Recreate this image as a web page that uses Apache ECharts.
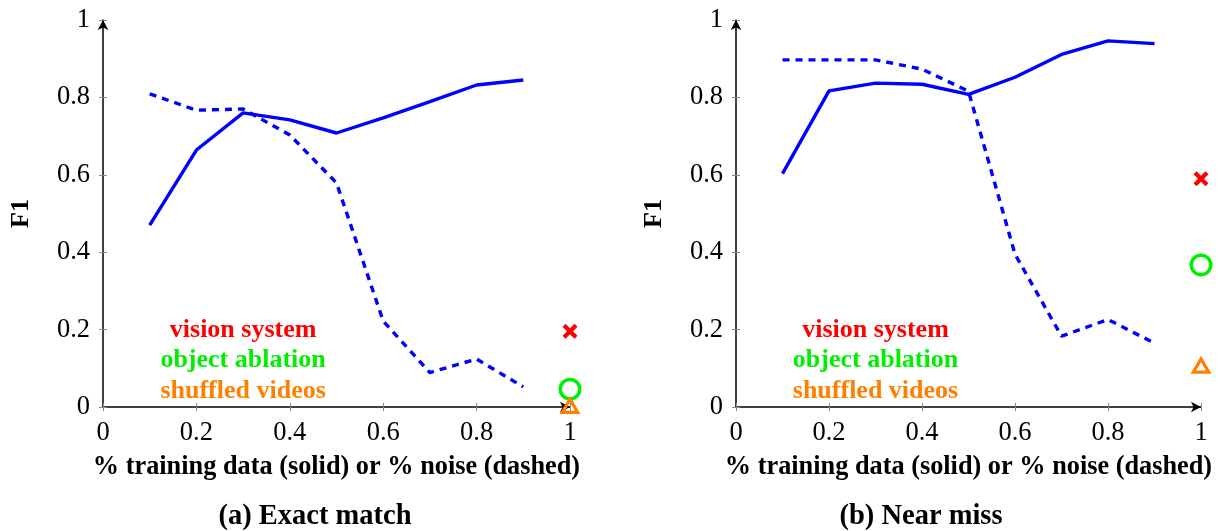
<!DOCTYPE html>
<html><head><meta charset="utf-8">
<script src="https://cdn.jsdelivr.net/npm/echarts@6/dist/echarts.min.js"></script>
<style>html,body{margin:0;padding:0;background:#fff}#c{width:1223px;height:531px}</style>
</head><body><div id="c"></div>
<script>
const xSteps = [0.1, 0.2, 0.3, 0.4, 0.5, 0.6, 0.7, 0.8, 0.9];
const tickValues = [0, 0.2, 0.4, 0.6, 0.8, 1];
const tickLabels = ['0', '0.2', '0.4', '0.6', '0.8', '1'];
const exactTraining = [0.470, 0.664, 0.760, 0.742, 0.708, 0.747, 0.789, 0.832, 0.845];
const exactNoise    = [0.809, 0.767, 0.770, 0.703, 0.579, 0.222, 0.089, 0.124, 0.052];
const nearTraining  = [0.603, 0.817, 0.837, 0.834, 0.808, 0.852, 0.911, 0.946, 0.939];
const nearNoise     = [0.897, 0.897, 0.897, 0.873, 0.816, 0.395, 0.183, 0.226, 0.165];
const baselineNames = ['vision system', 'object ablation', 'shuffled videos'];
const exactBaselines = [0.196, 0.046, 0.005];
const nearBaselines  = [0.590, 0.367, 0.109];
const baselineX = 1;
const legendX = 0.3;
const legendY = [0.199, 0.121, 0.040];
const xAxisTitle = '% training data (solid) or % noise (dashed)';
const yAxisTitle = 'F1';
const captions = [['(a) ', 'Exact match'], ['(b) ', 'Near miss']];

const SERIF = '"Liberation Serif","DejaVu Serif",serif';
const baselineColors = ['#ff0000', '#00ee00', '#ff8000'];
const crossPath = 'path://M2,0L5,3L8,0L10,2L7,5L10,8L8,10L5,7L2,10L0,8L3,5L0,2Z';
const ringPath = 'path://M11.5,0A11.5,11.5 0 1,1 11.5,23A11.5,11.5 0 1,1 11.5,0ZM11.5,3.5A8,8 0 1,0 11.5,19.5A8,8 0 1,0 11.5,3.5Z';
const triPath = 'path://M10.5,0L21,18L0,18ZM10.5,6.35L5.57,14.8L15.43,14.8Z';

function fmt(v){ const i = tickValues.findIndex(t => Math.abs(t - v) < 1e-9); return i >= 0 ? tickLabels[i] : ''; }

function axisX(gi){
  return {gridIndex: gi, type: 'value', min: 0, max: 1, interval: 0.2,
    axisLine: {show: true, onZero: false, symbol: ['none', 'arrow'], symbolSize: [8, 10], lineStyle: {color: '#000', width: 1.5}},
    axisTick: {show: true, length: 4, lineStyle: {color: '#888', width: 1}},
    axisLabel: {formatter: fmt, fontFamily: SERIF, fontSize: 26.5, color: '#000', margin: 13},
    splitLine: {show: false},
    name: xAxisTitle, nameLocation: 'middle', nameGap: 47,
    nameTextStyle: {fontFamily: SERIF, fontSize: 26.3, fontWeight: 'bold', color: '#000'}};
}
function axisXInner(gi){
  return {gridIndex: gi, type: 'value', min: 0, max: 1, interval: 0.2, position: 'bottom',
    axisLine: {show: false}, axisLabel: {show: false}, splitLine: {show: false},
    axisTick: {show: true, inside: true, length: 4, lineStyle: {color: '#888', width: 1}}};
}
function axisY(gi){
  return {gridIndex: gi, type: 'value', min: 0, max: 1, interval: 0.2,
    axisLine: {show: true, onZero: false, symbol: ['none', 'arrow'], symbolSize: [8, 10], lineStyle: {color: '#000', width: 1.5}},
    axisTick: {show: true, length: 4, lineStyle: {color: '#888', width: 1}},
    axisLabel: {formatter: fmt, fontFamily: SERIF, fontSize: 26.5, color: '#000', margin: 13},
    splitLine: {show: false},
    name: yAxisTitle, nameLocation: 'middle', nameGap: 69, nameRotate: 90,
    nameTextStyle: {fontFamily: SERIF, fontSize: 26, fontWeight: 'bold', color: '#000'}};
}
function axisYInner(gi){
  return {gridIndex: gi, type: 'value', min: 0, max: 1, interval: 0.2, position: 'left',
    axisLine: {show: false}, axisLabel: {show: false}, splitLine: {show: false},
    axisTick: {show: true, inside: true, length: 4, lineStyle: {color: '#888', width: 1}}};
}

function seriesFor(gi, training, noise, baselines){
  const out = [];
  out.push({type: 'line', xAxisIndex: gi, yAxisIndex: gi, showSymbol: false, animation: false,
    data: xSteps.map((x, i) => [x, training[i]]),
    lineStyle: {color: '#0000ff', width: 3.4}});
  out.push({type: 'line', xAxisIndex: gi, yAxisIndex: gi, showSymbol: false, animation: false,
    data: xSteps.map((x, i) => [x, noise[i]]),
    lineStyle: {color: '#0000ff', width: 3.4, type: [7, 6], cap: 'butt'}});
  out.push({type: 'scatter', xAxisIndex: gi, yAxisIndex: gi, animation: false, z: 5, clip: false,
    data: [[baselineX, baselines[0]]], symbol: crossPath, symbolSize: 15,
    itemStyle: {color: baselineColors[0], opacity: 1}});
  out.push({type: 'scatter', xAxisIndex: gi, yAxisIndex: gi, animation: false, z: 5, clip: false,
    data: [[baselineX, baselines[1]]], symbol: ringPath, symbolSize: 23,
    itemStyle: {color: baselineColors[1], opacity: 1}});
  out.push({type: 'scatter', xAxisIndex: gi, yAxisIndex: gi, animation: false, z: 6, clip: false,
    data: [[baselineX, baselines[2]]], symbol: triPath, symbolSize: [21, 18],
    itemStyle: {color: baselineColors[2], opacity: 1}});
  out.push({type: 'scatter', xAxisIndex: gi, yAxisIndex: gi, animation: false, silent: true,
    symbolSize: 1, itemStyle: {color: 'rgba(0,0,0,0)', opacity: 1},
    data: baselineNames.map((n, i) => ({value: [legendX, legendY[i]],
      label: {show: true, position: 'inside', formatter: n, color: baselineColors[i], opacity: 1,
        fontFamily: SERIF, fontSize: 26, fontWeight: 'bold'}}))});
  return out;
}

const chart = echarts.init(document.getElementById('c'), null, {renderer: 'canvas'});
chart.setOption({
  backgroundColor: '#fff',
  animation: false,
  grid: [
    {left: 103, top: 20, width: 467, height: 387},
    {left: 736, top: 20, width: 465, height: 387}
  ],
  xAxis: [axisX(0), axisX(1), axisXInner(0), axisXInner(1)],
  yAxis: [axisY(0), axisY(1), axisYInner(0), axisYInner(1)],
  title: captions.map((c, i) => ({
    text: '{r|' + c[0] + '}{b|' + c[1] + '}',
    left: i === 0 ? 310 : 916, top: 497, textAlign: 'center',
    textStyle: {rich: {
      r: {fontFamily: SERIF, fontSize: 28.5, color: '#000'},
      b: {fontFamily: SERIF, fontSize: 28.5, fontWeight: 'bold', color: '#000'}}}
  })),
  series: [].concat(
    seriesFor(0, exactTraining, exactNoise, exactBaselines),
    seriesFor(1, nearTraining, nearNoise, nearBaselines))
});
</script></body></html>
